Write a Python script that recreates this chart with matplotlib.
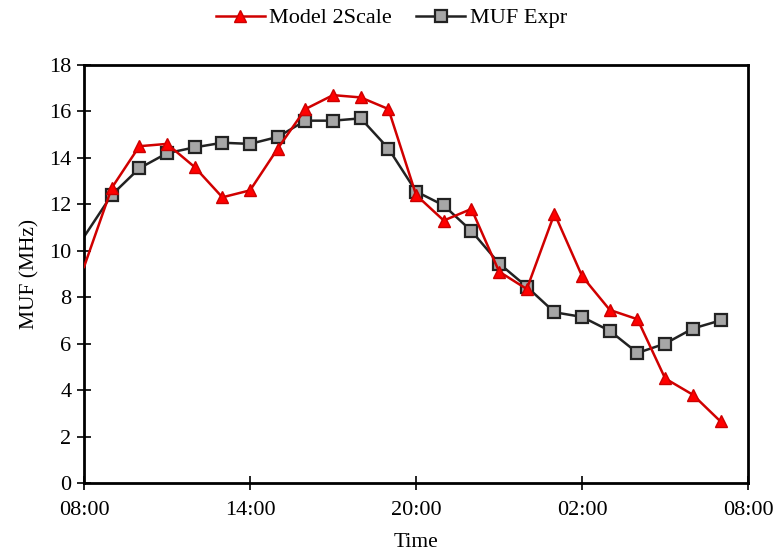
import matplotlib
matplotlib.use("Agg")
import matplotlib.pyplot as plt

# hourly samples, hour 0 = 08:00 (day 1) ... hour 23 = 07:00 (day 2)
hours = list(range(24))
model_2scale = [9.3, 12.7, 14.5, 14.6, 13.6, 12.3, 12.6, 14.4,
                16.1, 16.7, 16.6, 16.1, 12.4, 11.3, 11.8, 9.1,
                8.35, 11.6, 8.9, 7.45, 7.05, 4.5, 3.8, 2.65]
muf_expr = [10.6, 12.4, 13.55, 14.2, 14.45, 14.65, 14.6, 14.9,
            15.6, 15.6, 15.7, 14.4, 12.55, 11.95, 10.85, 9.45,
            8.45, 7.35, 7.15, 6.55, 5.6, 6.0, 6.65, 7.0]
tick_hours = [0, 6, 12, 18, 24]
tick_labels = ["08:00", "14:00", "20:00", "02:00", "08:00"]

plt.rcParams["font.family"] = ["Liberation Serif", "DejaVu Serif"]

fig = plt.figure(figsize=(7.75, 5.53), dpi=100)
ax = fig.add_axes([0.1084, 0.1266, 0.857, 0.756])

marks = list(range(1, len(hours)))
ax.plot(hours, model_2scale, color="#d00000", lw=1.8, marker="^", ms=9,
        mfc="#ff0000", mec="#cc0000", markevery=marks, label="Model 2Scale",
        zorder=3)
ax.plot(hours, muf_expr, color="#222222", lw=1.8, marker="s", ms=8.5,
        mfc="#a6a6a6", mec="#222222", mew=1.6, markevery=marks,
        label="MUF Expr", zorder=2)

ax.set_xlim(0, 24)
ax.set_ylim(0, 18)
ax.set_xticks(tick_hours)
ax.set_xticklabels(tick_labels)
ax.set_yticks(range(0, 19, 2))
ax.tick_params(axis="x", direction="inout", length=10, width=1.2,
               labelsize=16, pad=8)
ax.tick_params(axis="y", direction="inout", length=10, width=1.2,
               labelsize=16, pad=4)
for s in ax.spines.values():
    s.set_linewidth(2)
    s.set_color("black")

ax.set_xlabel("Time", fontsize=15.5, labelpad=9)
ax.set_ylabel("MUF (MHz)", fontsize=15.5, labelpad=7)

fig.legend(loc="upper center", bbox_to_anchor=(0.505, 1.022), ncol=2,
           frameon=False, fontsize=16, handlelength=2.2, columnspacing=1.1,
           handletextpad=0.2)

fig.savefig("out.png", dpi=100)
